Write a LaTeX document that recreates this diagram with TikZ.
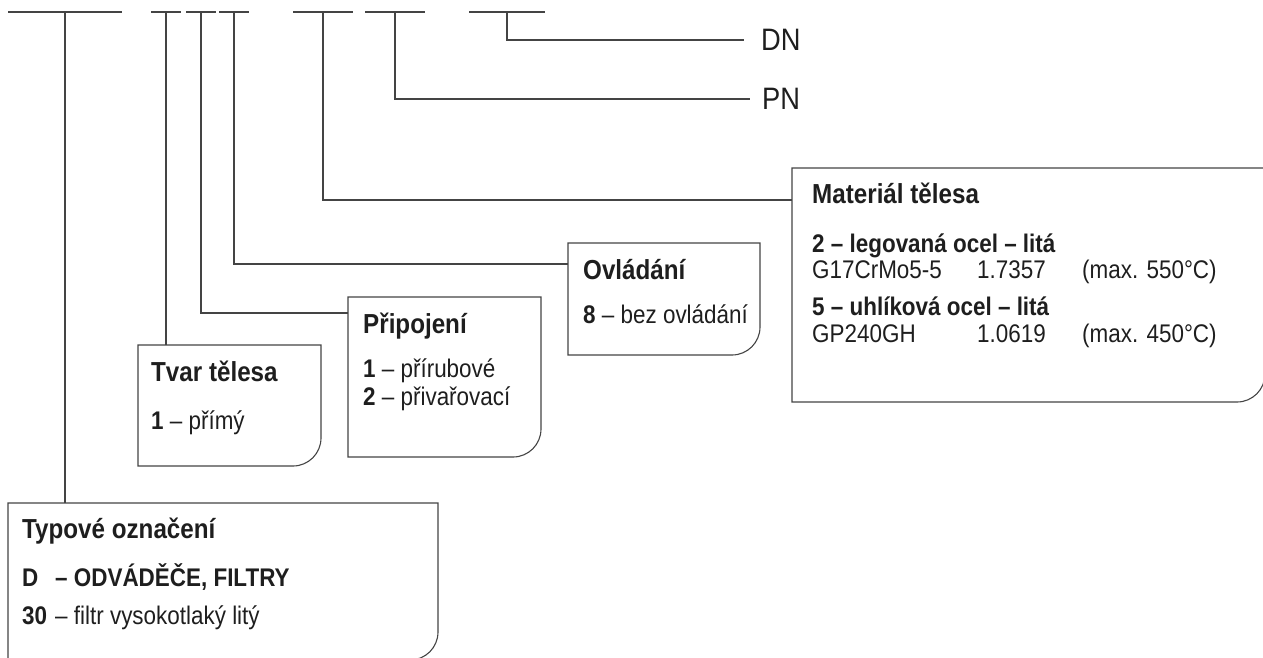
\documentclass[tikz,border=0pt]{standalone}
\usepackage{fontspec}
\setmainfont{Liberation Sans}[FakeStretch=0.88]
\usetikzlibrary{calc}

\definecolor{linegray}{HTML}{444444}
\definecolor{textblack}{HTML}{1E1E1E}

\tikzset{
    frame/.style={draw=linegray, line width=1.1pt},
    field/.style={inner sep=0pt, outer sep=0pt},
    lbl/.style={anchor=base west, inner sep=0pt, text=textblack, font=\fontsize{25.5}{30}\selectfont},
    ttl/.style={lbl, font=\fontsize{27.5}{32}\selectfont\bfseries}
}

\begin{document}
\begin{tikzpicture}[x=1pt, y=1pt]
    \useasboundingbox (0,0) rectangle (1263,-657);

    %fields of the type code
    \foreach \n/\x/\w in {ftyp/65/57, ftvar/166/15, fpripoj/201/15, fovl/234/15, fmat/323/30, fpn/395/30, fdn/507/38} {
        \coordinate (\n) at (\x,-12);
        \draw[frame] ([xshift=-\w pt]\n) -- ([xshift=\w pt]\n);
    }

    %Typove oznaceni
    \node[field, minimum width=430pt, minimum height=157pt] at (223,-581.5) (typ) {};
    %Tvar telesa
    \node[field, minimum width=183pt, minimum height=121pt] at (229.5,-405.5) (tvar) {};
    %Pripojeni
    \node[field, minimum width=193pt, minimum height=160pt] at (444.5,-377) (pripoj) {};
    %Ovladani
    \node[field, minimum width=192pt, minimum height=112pt] at (664,-299) (ovl) {};
    %Material telesa
    \node[field, minimum width=473pt, minimum height=234pt] at (1028.5,-285) (mat) {};

    %outlines, only the lower right corner is rounded
    \foreach \b in {typ, tvar, pripoj, ovl, mat} {
        \draw[frame] (\b.north west) -- (\b.north east) -- ([yshift=28pt]\b.south east) arc[start angle=0, end angle=-90, radius=28pt] -- (\b.south west) -- cycle;
    }

    %DN, PN
    \node[lbl, anchor=west, inner xsep=17pt, font=\fontsize{31}{36}\selectfont] at (744,-40) (dn) {DN};
    \node[lbl, anchor=west, inner xsep=12pt, font=\fontsize{31}{36}\selectfont] at (750,-99) (pn) {PN};

    %texts Material telesa
    \node[ttl] at ([shift={(20pt,-35pt)}]mat.north west) (matT) {Materiál tělesa};
    \node[lbl] at ([shift={(20pt,-84pt)}]mat.north west) (matA) {\textbf{2 – legovaná ocel – litá}};
    \node[lbl] at ([shift={(20pt,-110pt)}]mat.north west) (matB) {\makebox[165pt][l]{G17CrMo5-5}\makebox[105pt][l]{1.7357}(max. 550°C)};
    \node[lbl] at ([shift={(20pt,-147pt)}]mat.north west) (matC) {\textbf{5 – uhlíková ocel – litá}};
    \node[lbl] at ([shift={(20pt,-174pt)}]mat.north west) (matD) {\makebox[165pt][l]{GP240GH}\makebox[105pt][l]{1.0619}(max. 450°C)};
    %texts Ovladani
    \node[ttl] at ([shift={(15pt,-36pt)}]ovl.north west) (ovlT) {Ovládání};
    \node[lbl] at ([shift={(15pt,-80pt)}]ovl.north west) (ovlA) {\textbf{8} – bez ovládání};
    %texts Pripojeni
    \node[ttl] at ([shift={(15pt,-36pt)}]pripoj.north west) (pripojT) {Připojení};
    \node[lbl] at ([shift={(15pt,-80pt)}]pripoj.north west) (pripojA) {\textbf{1} – přírubové};
    \node[lbl] at ([shift={(15pt,-108pt)}]pripoj.north west) (pripojB) {\textbf{2} – přivařovací};
    %texts Tvar telesa
    \node[ttl] at ([shift={(13pt,-36pt)}]tvar.north west) (tvarT) {Tvar tělesa};
    \node[lbl] at ([shift={(13pt,-84pt)}]tvar.north west) (tvarA) {\textbf{1} – přímý};
    %texts Typove oznaceni
    \node[ttl] at ([shift={(14pt,-35pt)}]typ.north west) (typT) {Typové označení};
    \node[lbl] at ([shift={(14pt,-83pt)}]typ.north west) (typA) {\textbf{\makebox[33pt][l]{D}– ODVÁDĚČE, FILTRY}};
    \node[lbl] at ([shift={(14pt,-121pt)}]typ.north west) (typB) {\makebox[33pt][l]{\textbf{30}}– filtr vysokotlaký litý};

    %connectors
    \draw[frame] (ftyp) -- (ftyp |- typ.north);
    \draw[frame] (ftvar) -- (ftvar |- tvar.north);
    \draw[frame] (fpripoj) |- ([yshift=-16pt]pripoj.north west);
    \draw[frame] (fovl) |- ([yshift=-21pt]ovl.north west);
    \draw[frame] (fmat) |- ([yshift=-32pt]mat.north west);
    \draw[frame] (fpn) |- (pn.west);
    \draw[frame] (fdn) |- (dn.west);

\end{tikzpicture}
\end{document}
